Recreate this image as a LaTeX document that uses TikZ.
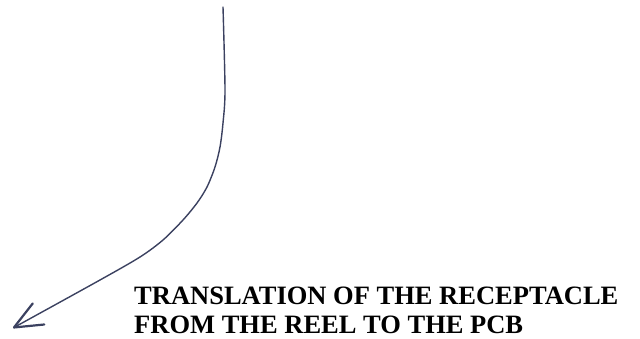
\documentclass[tikz,border=0pt]{standalone}
\usepackage{fontspec}
\setmainfont{Liberation Serif}
\usetikzlibrary{arrows.meta}
\definecolor{ink}{HTML}{3B4160}
\tikzset{
  sketch/.style={draw=ink, line width=1.4pt, line cap=round, line join=round,
    -{Straight Barb[length=28pt, width=24pt, line width=2.2pt, round]}},
  caption/.style={inner sep=0pt, anchor=base west, font=\fontsize{26.5}{29}\selectfont\bfseries}
}
\begin{document}
\begin{tikzpicture}[x=1pt, y=-1pt]
  \useasboundingbox (0,0) rectangle (640,338);
  \coordinate (start) at (223,7);
  \coordinate (tip) at (13,328);
  \draw[sketch] plot[smooth, tension=0.5] coordinates
    {(start) (225,90) (223,123) (220,147) (215,167) (207,187) (197,203) (183,220) (163,240) (140,257) (100,280) (tip)};
  \node[caption] (line1) at (134,304) {TRANSLATION OF THE RECEPTACLE};
  \node[caption] (line2) at (134,333) {FROM THE REEL TO THE PCB};
\end{tikzpicture}
\end{document}
